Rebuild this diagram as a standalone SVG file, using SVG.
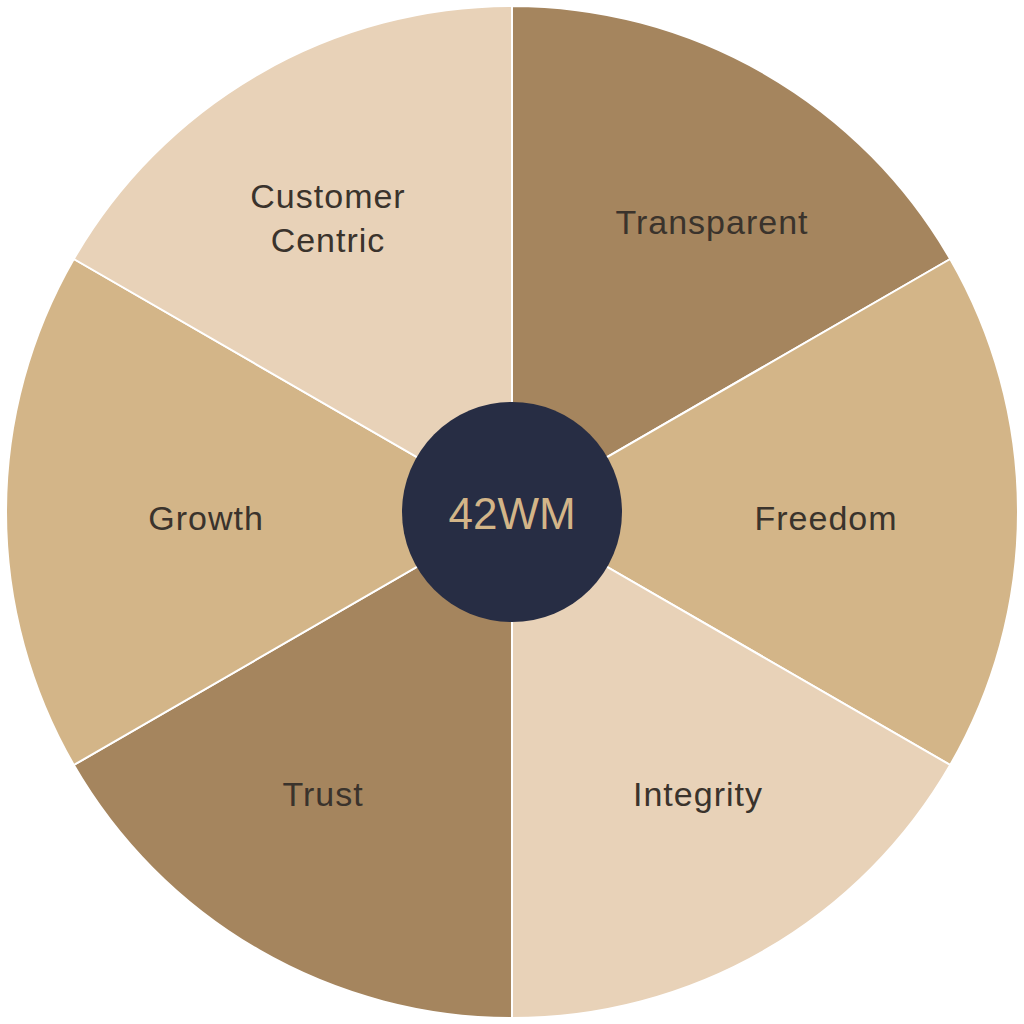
<svg xmlns="http://www.w3.org/2000/svg" width="1024" height="1024" viewBox="0 0 1024 1024">
<style>
.s{stroke:#ffffff;stroke-width:2}
.d{fill:#A5855E}.m{fill:#D3B588}.l{fill:#E8D2B8}
.t{font-family:"Liberation Sans",Arial,sans-serif;font-size:34px;fill:#3a332c;text-anchor:middle;letter-spacing:1px}
</style>
<rect width="1024" height="1024" fill="#ffffff"/>
<g id="transparent"><path class="d s" d="M512,512 L512,6 A506,506 0 0 1 950.2,259 Z"/><text class="t" x="712" y="234">Transparent</text></g>
<g id="freedom"><path class="m s" d="M512,512 L950.2,259 A506,506 0 0 1 950.2,765 Z"/><text class="t" x="826" y="530">Freedom</text></g>
<g id="integrity"><path class="l s" d="M512,512 L950.2,765 A506,506 0 0 1 512,1018 Z"/><text class="t" x="698" y="806">Integrity</text></g>
<g id="trust"><path class="d s" d="M512,512 L512,1018 A506,506 0 0 1 73.8,765 Z"/><text class="t" x="323" y="806">Trust</text></g>
<g id="growth"><path class="m s" d="M512,512 L73.8,765 A506,506 0 0 1 73.8,259 Z"/><text class="t" x="206" y="530">Growth</text></g>
<g id="customer"><path class="l s" d="M512,512 L73.8,259 A506,506 0 0 1 512,6 Z"/><text class="t" x="328" y="208">Customer</text><text class="t" x="328" y="252">Centric</text></g>
<g id="center"><circle cx="512" cy="512" r="110" fill="#272D44"/><text x="512" y="529" font-family="Liberation Sans,Arial,sans-serif" font-size="44" fill="#D3B588" text-anchor="middle">42WM</text></g>
</svg>
